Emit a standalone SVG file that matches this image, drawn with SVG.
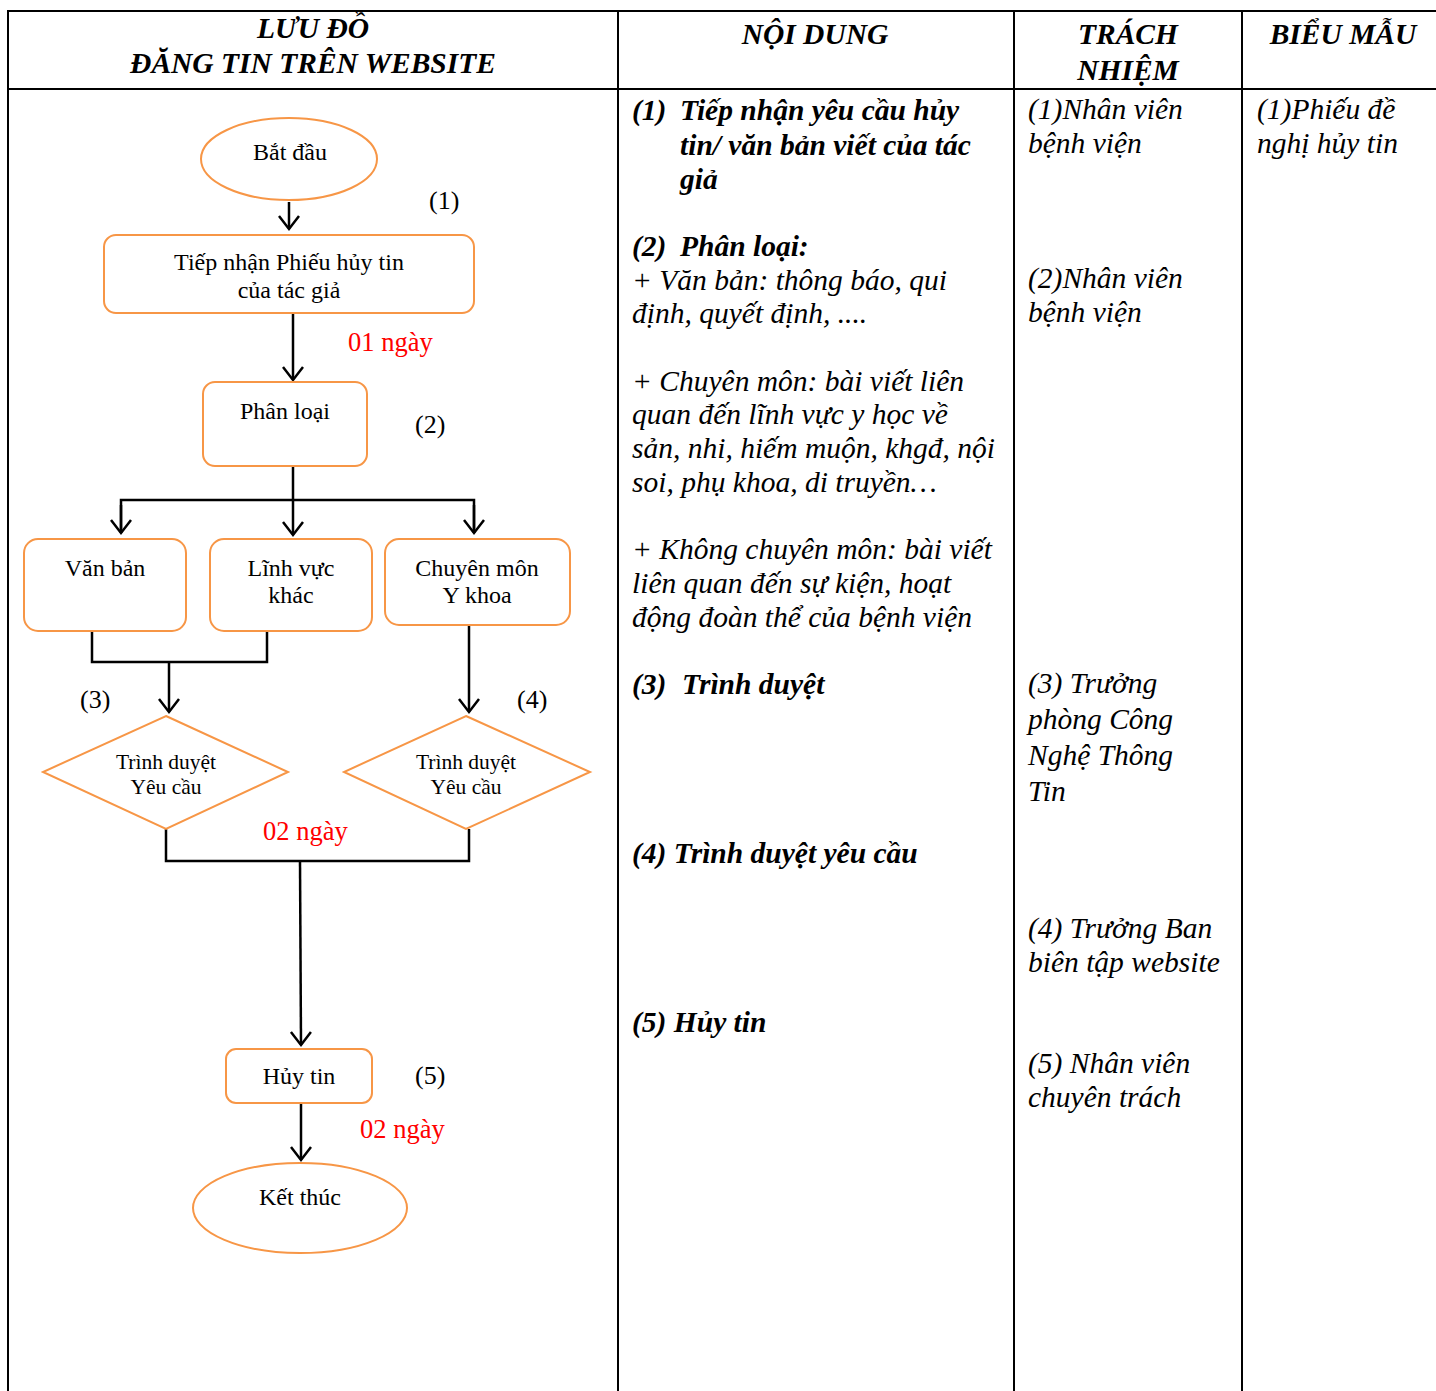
<svg xmlns="http://www.w3.org/2000/svg" width="1436" height="1391" viewBox="0 0 1436 1391">
<defs>
<style>
.grid{stroke:#000;stroke-width:2;fill:none}
.node{fill:#fff;stroke:#F79646;stroke-width:2}
.conn{stroke:#000;stroke-width:2.5;fill:none}
.t{font-family:"Liberation Serif","Times New Roman",serif;font-size:24px;fill:#000;text-anchor:middle}
.red{font-family:"Liberation Serif","Times New Roman",serif;font-size:26.5px;fill:#FF0000}
.dt{font-family:"Liberation Serif","Times New Roman",serif;font-size:21.5px;fill:#000;text-anchor:middle}
.num{font-family:"Liberation Serif","Times New Roman",serif;font-size:26px;fill:#000}
.hd{font-family:"Liberation Serif","Times New Roman",serif;font-size:29.5px;font-weight:bold;font-style:italic;fill:#000;text-anchor:middle}
.cb{font-family:"Liberation Serif","Times New Roman",serif;font-size:29.5px;font-weight:bold;font-style:italic;fill:#000}
.ci{font-family:"Liberation Serif","Times New Roman",serif;font-size:29.5px;font-style:italic;fill:#000}
</style>
<marker id="arr" markerUnits="userSpaceOnUse" markerWidth="30" markerHeight="30" viewBox="-15 -15 30 30" refX="0" refY="0" orient="auto">
<path d="M-13,-10 L0,0 L-13,10" fill="none" stroke="#000" stroke-width="2.5"/>
</marker>
</defs>
<rect width="1436" height="1391" fill="#fff"/>

<g id="table">
<line class="grid" x1="8" y1="11" x2="1436" y2="11"/>
<line class="grid" x1="8" y1="89" x2="1436" y2="89"/>
<line class="grid" x1="8" y1="10" x2="8" y2="1391"/>
<line class="grid" x1="618" y1="10" x2="618" y2="1391"/>
<line class="grid" x1="1014" y1="10" x2="1014" y2="1391"/>
<line class="grid" x1="1242" y1="10" x2="1242" y2="1391"/>
</g>

<g id="headers">
<text class="hd" x="313" y="38">LƯU ĐỒ</text>
<text class="hd" x="313" y="73">ĐĂNG TIN TRÊN WEBSITE</text>
<text class="hd" x="815" y="44">NỘI DUNG</text>
<text class="hd" x="1128" y="44">TRÁCH</text>
<text class="hd" x="1128" y="80">NHIỆM</text>
<text class="hd" x="1343" y="44">BIỂU MẪU</text>
</g>

<g id="connectors">
<line class="conn" x1="289" y1="202" x2="289" y2="229" marker-end="url(#arr)"/>
<line class="conn" x1="293" y1="313" x2="293" y2="380" marker-end="url(#arr)"/>
<polyline class="conn" points="293,466 293,500"/>
<polyline class="conn" points="121,533 121,500 474,500 474,533"/>
<line class="conn" x1="121" y1="505" x2="121" y2="533" marker-end="url(#arr)"/>
<line class="conn" x1="293" y1="500" x2="293" y2="535" marker-end="url(#arr)"/>
<line class="conn" x1="474" y1="505" x2="474" y2="533" marker-end="url(#arr)"/>
<polyline class="conn" points="92,631 92,662 267,662 267,631"/>
<line class="conn" x1="169" y1="662" x2="169" y2="712" marker-end="url(#arr)"/>
<line class="conn" x1="469" y1="625" x2="469" y2="712" marker-end="url(#arr)"/>
<polyline class="conn" points="166,829 166,861 469,861 469,829"/>
<line class="conn" x1="300" y1="861" x2="301" y2="1045" marker-end="url(#arr)"/>
<line class="conn" x1="301" y1="1103" x2="301" y2="1160" marker-end="url(#arr)"/>
</g>

<g id="start">
<ellipse class="node" cx="289" cy="159" rx="88" ry="41"/>
<text class="t" x="290" y="160">Bắt đầu</text>
</g>
<g id="receive">
<rect class="node" x="104" y="235" width="370" height="78" rx="12"/>
<text class="t" x="289" y="270">Tiếp nhận Phiếu hủy tin</text>
<text class="t" x="289" y="298">của tác giả</text>
</g>
<g id="classify">
<rect class="node" x="203" y="382" width="164" height="84" rx="12"/>
<text class="t" x="285" y="419">Phân loại</text>
</g>
<g id="vanban">
<rect class="node" x="24" y="539" width="162" height="92" rx="14"/>
<text class="t" x="105" y="576">Văn bản</text>
</g>
<g id="linhvuc">
<rect class="node" x="210" y="539" width="162" height="92" rx="14"/>
<text class="t" x="291" y="576">Lĩnh vực</text>
<text class="t" x="291" y="603">khác</text>
</g>
<g id="chuyenmon">
<rect class="node" x="385" y="539" width="185" height="86" rx="14"/>
<text class="t" x="477" y="576">Chuyên môn</text>
<text class="t" x="477" y="603">Y khoa</text>
</g>
<g id="approve1">
<polygon class="node" points="166,716 288,772 166,829 43,772"/>
<text class="dt" x="166" y="769">Trình duyệt</text>
<text class="dt" x="166" y="794">Yêu cầu</text>
</g>
<g id="approve2">
<polygon class="node" points="466,716 590,772 466,829 344,772"/>
<text class="dt" x="466" y="769">Trình duyệt</text>
<text class="dt" x="466" y="794">Yêu cầu</text>
</g>
<g id="cancel">
<rect class="node" x="226" y="1049" width="146" height="54" rx="10"/>
<text class="t" x="299" y="1084">Hủy tin</text>
</g>
<g id="end">
<ellipse class="node" cx="300" cy="1208" rx="107" ry="45"/>
<text class="t" x="300" y="1205">Kết thúc</text>
</g>

<g id="labels">
<text class="num" x="429" y="209">(1)</text>
<text class="num" x="415" y="433">(2)</text>
<text class="num" x="80" y="708">(3)</text>
<text class="num" x="517" y="708">(4)</text>
<text class="num" x="415" y="1084">(5)</text>
<text class="red" x="348" y="351">01 ngày</text>
<text class="red" x="263" y="840">02 ngày</text>
<text class="red" x="360" y="1138">02 ngày</text>
</g>

<g id="content">
<text class="cb" x="632" y="120">(1)</text>
<text class="cb" x="680" y="120">Tiếp nhận yêu cầu hủy</text>
<text class="cb" x="680" y="155">tin/ văn bản viết của tác</text>
<text class="cb" x="680" y="189">giả</text>
<text class="cb" x="632" y="256">(2)</text>
<text class="cb" x="680" y="256">Phân loại:</text>
<text class="ci" x="632" y="290">+ Văn bản: thông báo, qui</text>
<text class="ci" x="632" y="323">định, quyết định, ....</text>
<text class="ci" x="632" y="391">+ Chuyên môn: bài viết liên</text>
<text class="ci" x="632" y="424">quan đến lĩnh vực y học về</text>
<text class="ci" x="632" y="458">sản, nhi, hiếm muộn, khgđ, nội</text>
<text class="ci" x="632" y="492">soi, phụ khoa, di truyền…</text>
<text class="ci" x="632" y="559">+ Không chuyên môn: bài viết</text>
<text class="ci" x="632" y="593">liên quan đến sự kiện, hoạt</text>
<text class="ci" x="632" y="627">động đoàn thể của bệnh viện</text>
<text class="cb" x="632" y="694">(3)</text>
<text class="cb" x="682" y="694">Trình duyệt</text>
<text class="cb" x="632" y="863">(4) Trình duyệt yêu cầu</text>
<text class="cb" x="632" y="1032">(5) Hủy tin</text>
</g>

<g id="responsible">
<text class="ci" x="1028" y="119">(1)Nhân viên</text>
<text class="ci" x="1028" y="153">bệnh viện</text>
<text class="ci" x="1028" y="288">(2)Nhân viên</text>
<text class="ci" x="1028" y="322">bệnh viện</text>
<text class="ci" x="1028" y="693">(3) Trưởng</text>
<text class="ci" x="1028" y="729">phòng Công</text>
<text class="ci" x="1028" y="765">Nghệ Thông</text>
<text class="ci" x="1028" y="801">Tin</text>
<text class="ci" x="1028" y="938">(4) Trưởng Ban</text>
<text class="ci" x="1028" y="972">biên tập website</text>
<text class="ci" x="1028" y="1073">(5) Nhân viên</text>
<text class="ci" x="1028" y="1107">chuyên trách</text>
</g>

<g id="forms">
<text class="ci" x="1257" y="119">(1)Phiếu đề</text>
<text class="ci" x="1257" y="153">nghị hủy tin</text>
</g>
</svg>
